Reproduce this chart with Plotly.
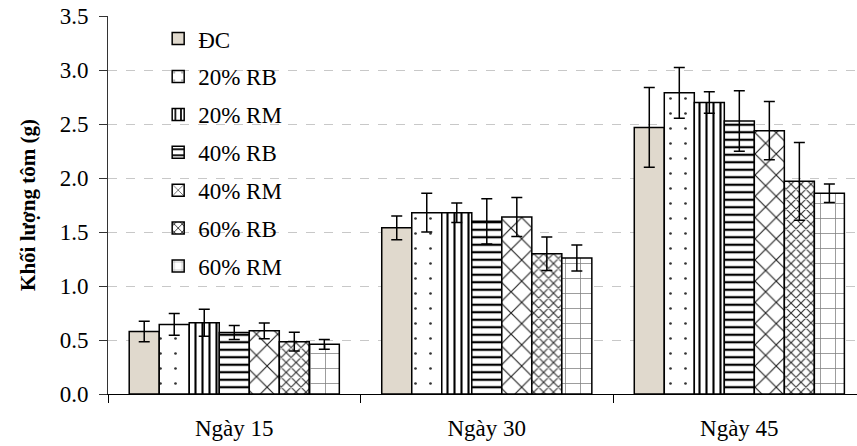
import plotly.graph_objects as go

categories = ["Ngày 15", "Ngày 30", "Ngày 45"]
series_names = ["ĐC", "20% RB", "20% RM", "40% RB", "40% RM", "60% RB", "60% RM"]
means = {
    "ĐC":     [0.58, 1.54, 2.47],
    "20% RB": [0.645, 1.68, 2.79],
    "20% RM": [0.66, 1.68, 2.70],
    "40% RB": [0.57, 1.60, 2.53],
    "40% RM": [0.585, 1.64, 2.44],
    "60% RB": [0.485, 1.30, 1.97],
    "60% RM": [0.46, 1.26, 1.86],
}
errors = {
    "ĐC":     [0.095, 0.11, 0.37],
    "20% RB": [0.10, 0.18, 0.235],
    "20% RM": [0.125, 0.09, 0.10],
    "40% RB": [0.065, 0.21, 0.28],
    "40% RM": [0.073, 0.18, 0.27],
    "60% RB": [0.087, 0.155, 0.36],
    "60% RM": [0.045, 0.12, 0.085],
}
y_ticks = [0.0, 0.5, 1.0, 1.5, 2.0, 2.5, 3.0, 3.5]

styles = {
    "ĐC":     dict(bg="#e0d9cd", shape="", fg="#e0d9cd", size=8, sol=0.3),
    "20% RB": dict(bg="white", shape=".", fg="#333333", size=15, sol=0.025),
    "20% RM": dict(bg="white", shape="|", fg="black", size=7, sol=0.3),
    "40% RB": dict(bg="white", shape="-", fg="black", size=7.5, sol=0.3),
    "40% RM": dict(bg="white", shape="x", fg="#222222", size=15, sol=0.15),
    "60% RB": dict(bg="white", shape="x", fg="#333333", size=7, sol=0.3),
    "60% RM": dict(bg="white", shape="+", fg="#808080", size=15, sol=0.1),
}

FONT = "Liberation Serif"
FS = 23
fig = go.Figure()
for i, name in enumerate(series_names):
    st = styles[name]
    fig.add_trace(go.Bar(
        name=name, x=categories, y=means[name],
        legendgroup=name,
        marker=dict(color=st["bg"], line=dict(color="black", width=1.5),
                    pattern=dict(shape=st["shape"], fgcolor=st["fg"], bgcolor=st["bg"],
                                 size=st["size"], solidity=st["sol"], fillmode="overlay",
                                 fgopacity=1)),
        error_y=dict(type="data", array=errors[name], visible=True,
                     color="black", thickness=1.5, width=5.5),
    ))

fig.update_layout(
    width=857, height=446,
    margin=dict(l=108, r=0, t=16, b=52),
    paper_bgcolor="white", plot_bgcolor="white",
    barmode="group", bargap=0.168, bargroupgap=0,
    font=dict(family=FONT, size=FS, color="black"),
    showlegend=True,
    legend=dict(x=0.067, y=0.997, xanchor="left", yanchor="top",
                bgcolor="rgba(0,0,0,0)", font=dict(family=FONT, size=FS),
                tracegroupgap=5),
    xaxis=dict(type="category", range=[-0.5, 2.466], showline=True, linecolor="black",
               linewidth=1, ticks="outside", tickson="boundaries", ticklen=8,
               tickcolor="black", showgrid=False, tickfont=dict(family=FONT, size=FS),
               ticklabelstandoff=13, automargin=False),
    yaxis=dict(range=[0, 3.502], tickvals=y_ticks, ticktext=[f"{v:.1f}" for v in y_ticks],
               showline=True, linecolor="#333333", linewidth=1, ticks="outside",
               ticklen=8, tickcolor="#333333", showgrid=True, gridcolor="#c8c8c8",
               griddash="dash", gridwidth=1, zeroline=False, automargin=False,
               tickfont=dict(family=FONT, size=FS), ticklabelstandoff=6,
               ticklabeloverflow="allow",
               title=dict(text="<b>Khối lượng tôm (g)</b>", font=dict(family=FONT, size=21),
                          standoff=18)),
)

# remove the browser's default 8px body margin so the figure fills the window
fig.write_html("out.html", config={"displayModeBar": False},
               post_script="document.body.style.margin='0px';")
